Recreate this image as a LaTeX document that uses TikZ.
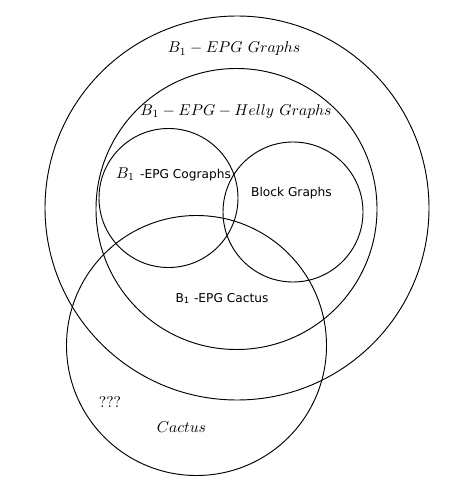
\documentclass[tikz,border=0pt]{standalone}
\usepackage{amsfonts, amsmath, amssymb}
\usepackage{fontspec}
\newfontfamily\dejavu{DejaVu Sans}
\newcommand{\sanslabel}{\dejavu\fontsize{7.8}{9}\selectfont}

\begin{document}
\begin{tikzpicture}[x=0.64pt, y=0.64pt]
            % Marco
            \useasboundingbox (0,0) rectangle (448,-488);

            % Circunferencias
            \draw[black, line width=0.6pt] (237,-208) circle (192);
            \draw[black, line width=0.6pt] (236.5,-209) circle (140.5);
            \draw[black, line width=0.6pt] (168.5,-198) circle (69.5);
            \draw[black, line width=0.6pt] (293,-212) circle (70);
            \draw[black, line width=0.6pt] (196.5,-345.5) circle (130);

            % Etiquetas
            \node (epg) at (234,-49) {$B_1 - EPG\ Graphs$};
            \node (helly) at (236,-111.5) {$B_1 - EPG - Helly\ Graphs$};
            \node (cograph) at (173.5,-174) {$B_1$ {\sanslabel -EPG Cographs}};
            \node (block) at (291.5,-193) {\sanslabel Block Graphs};
            \node (epgcactus) at (222,-298.5) {\sanslabel B$_{\text{1}}$ -EPG Cactus};
            \node (unknown) at (110,-402) {???};
            \node (cactus) at (181.5,-427.5) {$Cactus$};
        \end{tikzpicture}
\end{document}
